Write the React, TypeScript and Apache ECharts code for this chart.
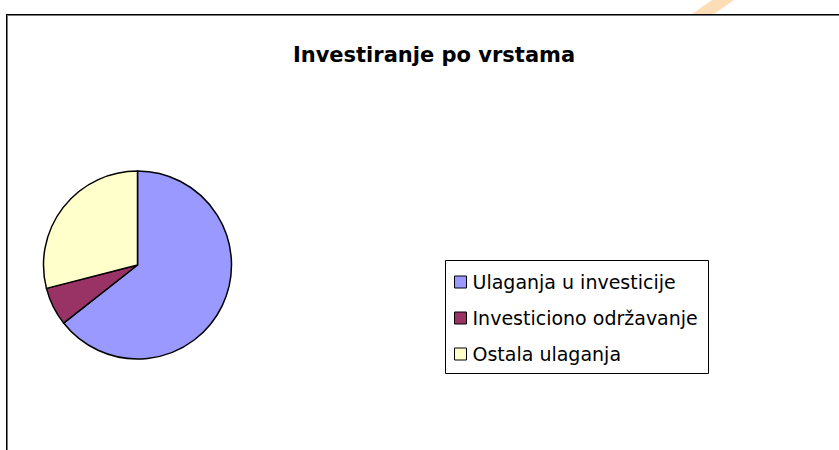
import React, { useEffect, useRef } from "react";
import * as echarts from "echarts";

const titleText = "Investiranje po vrstama";
const categories = ["Ulaganja u investicije", "Investiciono održavanje", "Ostala ulaganja"];
const values = [64.4, 6.6, 29.0];
const colors = ["#9999FF", "#993366", "#FFFFCC"];

export default function App() {
  const ref = useRef<HTMLDivElement>(null);
  useEffect(() => {
    if (!ref.current) return;
    const chart = echarts.init(ref.current, null, { renderer: "svg" });
    chart.setOption({
      animation: false,
      backgroundColor: "#ffffff",
      legend: {
        orient: "vertical",
        left: 454,
        top: 272,
        padding: 0,
        itemWidth: 12,
        itemHeight: 12,
        itemGap: 16,
        icon: "rect",
        selectedMode: false,
        itemStyle: { borderColor: "#000", borderWidth: 1 },
        textStyle: { fontFamily: "DejaVu Sans", fontSize: 19, lineHeight: 20, color: "#000", padding: [0, 0, 0, 1] },
        data: categories,
      },
      series: [
        {
          type: "pie",
          center: [137.5, 265],
          radius: 94,
          startAngle: 90,
          clockwise: true,
          label: { show: false },
          labelLine: { show: false },
          emphasis: { disabled: true },
          silent: true,
          itemStyle: { borderColor: "#000", borderWidth: 1.5 },
          data: categories.map((name, i) => ({ name, value: values[i], itemStyle: { color: colors[i] } })),
        },
      ],
      graphic: [
        {
          type: "polygon",
          shape: { points: [[692, 14], [714, 14], [734, 0], [712, 0]] },
          style: { fill: "#FDDDB5" },
          silent: true,
        },
        {
          type: "line",
          shape: { x1: 6, y1: 14.5, x2: 839, y2: 14.5 },
          style: { stroke: "#000", lineWidth: 1 },
          silent: true,
        },
        {
          type: "line",
          shape: { x1: 7, y1: 15.5, x2: 839, y2: 15.5 },
          style: { stroke: "#777", lineWidth: 1 },
          silent: true,
        },
        {
          type: "line",
          shape: { x1: 6.5, y1: 14, x2: 6.5, y2: 450 },
          style: { stroke: "#000", lineWidth: 1 },
          silent: true,
        },
        {
          type: "line",
          shape: { x1: 7.5, y1: 15, x2: 7.5, y2: 450 },
          style: { stroke: "#777", lineWidth: 1 },
          silent: true,
        },
        {
          type: "rect",
          shape: { x: 445.5, y: 260.5, width: 263, height: 113 },
          style: { fill: "none", stroke: "#000", lineWidth: 1 },
          silent: true,
        },
        {
          type: "text",
          x: 434,
          y: 55,
          style: {
            text: titleText,
            fill: "#000",
            fontFamily: "DejaVu Sans",
            fontWeight: "bold",
            fontSize: 21,
            align: "center",
            verticalAlign: "middle",
          },
          silent: true,
        },
      ],
    });
    return () => chart.dispose();
  }, []);
  return <div ref={ref} style={{ position: "fixed", left: 0, top: 0, width: 839, height: 450 }} />;
}
